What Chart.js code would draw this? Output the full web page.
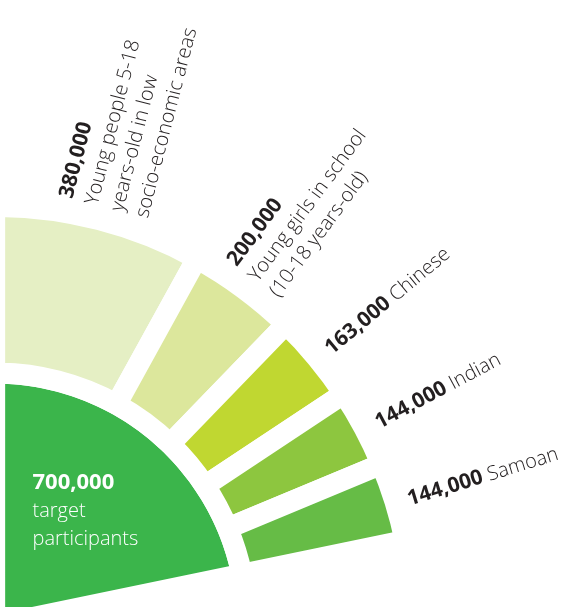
<!DOCTYPE html>
<html>
<head>
<meta charset="utf-8">
<script src="https://cdn.jsdelivr.net/npm/chart.js@4"></script>
<style>
  html, body { margin: 0; padding: 0; background: #fff; }
  .wrap { position: relative; width: 561px; height: 607px; }
</style>
</head>
<body>
<div class="wrap"><canvas id="fanChart"></canvas></div>
<script>
// outer ring: the target groups
const groupLabels = [
  ["Young people 5-18", "years-old in low", "socio-economic areas"],
  ["Young girls in school", "(10-18 years-old)"],
  ["Chinese"],
  ["Indian"],
  ["Samoan"]
];
const groupValues = [380000, 200000, 163000, 144000, 144000];

// inner sector: all target participants
const totalLabel = ["target", "participants"];
const totalValue = [700000];

const ringColors = ["#e5efc4", "#dce79c", "#c0d731", "#8dc63f", "#66bc46"];
const totalColor = "#3bb54b";
const inkColor = "#231f20";

const outerBold = "700 21px 'Open Sans'";
const outerLight = "300 20px 'Open Sans'";
const innerBold = "700 22px 'Open Sans'";
const innerLight = "300 20px 'Open Sans'";

// draws the rotated labels outside the ring and the white text in the middle
const fanLabels = {
  id: "fanLabels",
  afterDatasetsDraw(chart) {
    const ctx = chart.ctx;
    ctx.save();
    ctx.textBaseline = "alphabetic";
    ctx.textAlign = "left";

    chart.getDatasetMeta(0).data.forEach((arc, i) => {
      const p = arc.getProps(["x", "y", "startAngle", "endAngle", "outerRadius"]);
      const mid = (p.startAngle + p.endAngle) / 2;
      const num = groupValues[i].toLocaleString("en-US");
      const lines = groupLabels[i];
      const multi = lines.length > 1;
      const n = multi ? lines.length + 1 : 1;
      const lh = 26;
      const r = p.outerRadius + 13;

      ctx.save();
      ctx.translate(p.x + Math.cos(mid) * r, p.y + Math.sin(mid) * r);
      ctx.rotate(mid);
      ctx.fillStyle = inkColor;
      const ty = 8 - (n - 1) * lh / 2; // keep the block centred on the slice
      ctx.font = outerBold;
      ctx.fillText(num, 0, ty);
      if (multi) {
        ctx.font = outerLight;
        lines.forEach((l, k) => ctx.fillText(l, 0, ty + (k + 1) * lh));
      } else {
        const w = ctx.measureText(num + " ").width;
        ctx.font = outerLight;
        ctx.fillText(lines[0], w, ty);
      }
      ctx.restore();
    });

    // inner sector text
    const c = chart.getDatasetMeta(1).data[0].getProps(["x", "y", "outerRadius"]);
    const lx = c.x + c.outerRadius * 0.15;
    const ly = c.y - c.outerRadius * 0.54;
    ctx.fillStyle = "#ffffff";
    ctx.font = innerBold;
    ctx.fillText(totalValue[0].toLocaleString("en-US"), lx, ly);
    ctx.font = innerLight;
    totalLabel.forEach((l, k) => ctx.fillText(l, lx, ly + (k + 1) * 28));
    ctx.restore();
  }
};

new Chart("fanChart", {
  type: "doughnut",
  data: {
    labels: groupLabels,
    datasets: [
      {
        label: "Target groups",
        data: groupValues,
        backgroundColor: ringColors,
        borderColor: "#ffffff",
        borderWidth: 21,
        weight: 0.66
      },
      {
        label: "Target participants",
        data: totalValue,
        backgroundColor: [totalColor],
        borderColor: "#ffffff",
        borderWidth: 21,
        weight: 1
      }
    ]
  },
  options: {
    responsive: true,
    maintainAspectRatio: false,
    animation: false,
    cutout: 0,
    radius: 419,
    rotation: 0,
    circumference: 78.3,
    layout: { padding: { left: 0, right: 161.4, top: 224.9, bottom: 0 } },
    plugins: {
      legend: { display: false },
      tooltip: { enabled: false }
    }
  },
  plugins: [fanLabels]
});
</script>
</body>
</html>
